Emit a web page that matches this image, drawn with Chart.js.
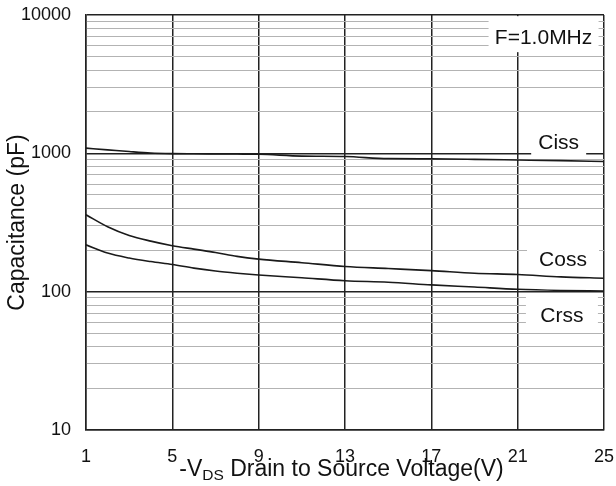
<!DOCTYPE html>
<html>
<head>
<meta charset="utf-8">
<script src="https://cdn.jsdelivr.net/npm/chart.js@4"></script>
<style>
  html, body { margin: 0; padding: 0; background: #fff; }
  #wrap { width: 616px; height: 486px; }
</style>
</head>
<body>
<div id="wrap"><canvas id="capChart" width="616" height="486"></canvas></div>
<script>
// -V_DS (V)
const voltage = [1, 2, 3, 4, 5, 6, 7, 8, 9, 11, 13, 15, 17, 19, 21, 23, 25];
// capacitance (pF)
const ciss = [1090, 1060, 1030, 1005, 995, 992, 990, 988, 985, 955, 948, 915, 912, 905, 895, 885, 873];
const coss = [360, 295, 255, 232, 215, 203, 192, 180, 172, 162, 152, 147, 142, 136, 133, 128, 125];
const crss = [218, 190, 175, 165, 157, 148, 141, 136, 132, 126, 120, 117, 112, 108, 104, 102, 101];

const xTicks = [1, 5, 9, 13, 17, 21, 25];
const yTickLabels = [10, 100, 1000, 10000];
const yMinorSteps = [2, 3, 4, 5, 6, 7, 8, 9];

// text labels placed in data units
const notes = [
    { text: 'F=1.0MHz', x: 22.2, y: 6800, w: 110, h: 36, dy: -4 },
    { text: 'Ciss', x: 22.9, y: 1190, w: 55, h: 30, dy: 0 },
    { text: 'Coss', x: 23.1, y: 170, w: 72, h: 30, dy: 0 },
    { text: 'Crss', x: 23.05, y: 67, w: 72, h: 34, dy: -3 }
];

const FONT = "'Liberation Sans', Arial, Helvetica, sans-serif";
Chart.defaults.font.family = FONT;
Chart.defaults.color = '#111';

function pts(ys) {
    return voltage.map((v, i) => ({ x: v, y: ys[i] }));
}

function curve(label, ys) {
    return {
        label: label,
        data: pts(ys),
        borderColor: '#1a1a1a',
        borderWidth: 1.6,
        pointRadius: 0,
        fill: false,
        cubicInterpolationMode: 'monotone'
    };
}

const notesPlugin = {
    id: 'notes',
    beforeDatasetsDraw(chart) {
        const ctx = chart.ctx;
        const xs = chart.scales.x, ys = chart.scales.y;
        ctx.save();
        ctx.font = '21px ' + FONT;
        ctx.textAlign = 'center';
        ctx.textBaseline = 'middle';
        notes.forEach(n => {
            const px = xs.getPixelForValue(n.x);
            const py = ys.getPixelForValue(n.y);
            ctx.fillStyle = '#fff';
            ctx.fillRect(px - n.w / 2, py - n.h / 2 + n.dy, n.w, n.h);
            ctx.fillStyle = '#111';
            ctx.fillText(n.text, px, py);
        });
        ctx.restore();
    }
};

const xTitlePlugin = {
    id: 'xTitle',
    afterDraw(chart) {
        const ctx = chart.ctx;
        const area = chart.chartArea;
        const big = '23px ' + FONT, small = '15.5px ' + FONT;
        const parts = [
            { t: '-V', f: big, dy: 0 },
            { t: 'DS', f: small, dy: 4 },
            { t: ' Drain to Source Voltage(V)', f: big, dy: 0 }
        ];
        ctx.save();
        ctx.fillStyle = '#111';
        ctx.textBaseline = 'alphabetic';
        let total = 0;
        parts.forEach(p => { ctx.font = p.f; p.w = ctx.measureText(p.t).width; total += p.w; });
        let x = (area.left + area.right) / 2 - 3.5 - total / 2;
        const base = area.bottom + 46;
        parts.forEach(p => {
            ctx.font = p.f;
            ctx.fillText(p.t, x, base + p.dy);
            x += p.w;
        });
        ctx.restore();
    }
};

const ctx1 = document.getElementById('capChart').getContext('2d');

const config1 = {
    type: 'line',
    data: {
        datasets: [curve('Ciss', ciss), curve('Coss', coss), curve('Crss', crss)]
    },
    options: {
        responsive: false,
        animation: false,
        devicePixelRatio: 1,
        layout: { padding: { top: 15, right: 12, left: 0, bottom: 0 } },
        plugins: {
            legend: { display: false },
            tooltip: { enabled: false }
        },
        scales: {
            x: {
                type: 'linear',
                min: 1,
                max: 25,
                afterBuildTicks: s => { s.ticks = xTicks.map(v => ({ value: v })); },
                afterFit: s => { s.height = 56; s.paddingLeft = 0; s.paddingRight = 0; },
                ticks: {
                    padding: 16,
                    maxRotation: 0,
                    autoSkip: false,
                    font: { size: 18 },
                    color: '#111'
                },
                grid: { color: '#222', lineWidth: 1.5, drawTicks: false },
                border: { display: true, color: '#222', width: 1.5 }
            },
            y: {
                type: 'logarithmic',
                min: 10,
                max: 10000,
                afterBuildTicks: s => {
                    const list = [];
                    for (let d = 0; d < yTickLabels.length - 1; d++) {
                        const base = yTickLabels[d];
                        list.push({ value: base });
                        yMinorSteps.forEach(m => list.push({ value: base * m }));
                    }
                    list.push({ value: yTickLabels[yTickLabels.length - 1] });
                    s.ticks = list;
                },
                afterFit: s => { s.width = 86; s.paddingTop = 0; s.paddingBottom = 0; },
                ticks: {
                    padding: 15,
                    autoSkip: false,
                    font: { size: 18 },
                    color: '#111',
                    callback: v => yTickLabels.includes(v) ? String(v) : ''
                },
                grid: {
                    drawTicks: false,
                    color: c => (c.tick && yTickLabels.includes(c.tick.value)) ? '#222' : '#b3b3b3',
                    lineWidth: c => (c.tick && yTickLabels.includes(c.tick.value)) ? 1.5 : 1
                },
                border: { display: true, color: '#222', width: 1.5 },
                title: {
                    display: true,
                    text: 'Capacitance (pF)',
                    font: { size: 23 },
                    color: '#111',
                    padding: { top: 4, bottom: 0 }
                }
            }
        }
    },
    plugins: [notesPlugin, xTitlePlugin]
};

const capChart = new Chart(ctx1, config1);
</script>
</body>
</html>
